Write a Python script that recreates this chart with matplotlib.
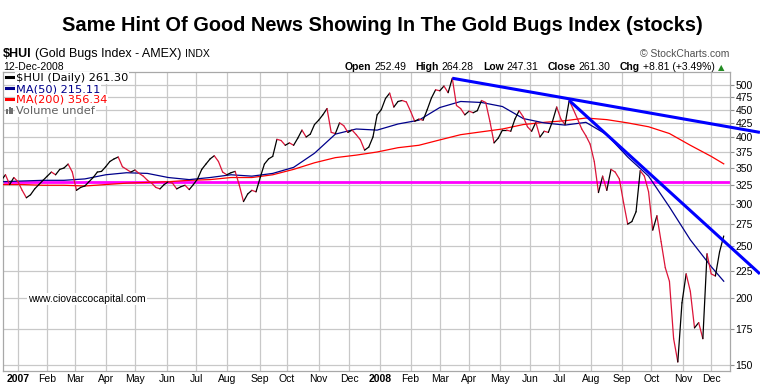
import numpy as np
import pandas as pd
import matplotlib
matplotlib.use('Agg')
import matplotlib.pyplot as plt
from matplotlib.lines import Line2D
from matplotlib.patches import Rectangle

plt.rcParams['font.family'] = ['Liberation Sans', 'DejaVu Sans']

W, H = 760, 387

# ===== data =====

start_date = '2006-12-18'
end_date = '2008-12-12'

# $HUI close, one value every 3 trading days
price_step = 3
hui_close = [
    332, 340, 326, 336, 330, 318, 308, 312, 320, 326,
    332, 338, 344, 340, 348, 350, 356, 344, 318, 322,
    324, 330, 336, 344, 345, 352, 360, 364, 367, 352,
    348, 344, 347, 342, 338, 332, 328, 322, 320, 326,
    330, 328, 320, 323, 325, 319, 326, 334, 348, 356,
    364, 369, 360, 344, 340, 343, 345, 325, 303, 313,
    318, 316, 336, 356, 364, 368, 396, 394, 386, 390,
    386, 398, 412, 400, 405, 422, 430, 440, 452, 408,
    406, 425, 420, 408, 412, 404, 395, 378, 383, 400,
    440, 450, 472, 483, 455, 466, 468, 465, 447, 428,
    432, 430, 450, 473, 490, 488, 498, 484, 515, 458,
    452, 440, 447, 444, 448, 468, 464, 428, 390, 398,
    412, 412, 410, 432, 448, 436, 418, 410, 426, 400,
    410, 408, 428, 455, 432, 422, 468, 450, 432, 414,
    402, 388, 360, 315, 338, 318, 348, 344, 334, 302,
    275, 278, 290, 346, 338, 316, 268, 285, 255, 228,
    215, 168, 152, 196, 222, 206, 176, 180, 168, 242,
    222, 220, 244, 261.30,
]

# moving averages, one value every 15 trading days plus the last day
ma_step = 15
ma50 = [
    330, 331, 332, 332, 334, 340, 343, 342, 336, 333,
    336, 340, 338, 342, 351, 373, 405, 414, 412, 423,
    430, 454, 466, 464, 456, 433, 425, 421, 426, 404,
    367, 338, 296, 257, 229, 215.11,
]
ma200 = [
    326, 326, 325, 325, 324, 326, 328, 329, 330, 332,
    333, 336, 336, 340, 348, 358, 366, 370, 375, 382,
    386, 395, 404, 409, 414, 422, 426, 429, 434, 431,
    425, 418, 406, 386, 368, 356.34,
]

support_level = 329

# trend lines: (date, value) anchors, drawn past the right edge
trend_long = [('2008-03-14', 515), ('2009-01-19', 408)]
trend_steep = [('2008-07-10', 468), ('2009-01-19', 222)]

# NYSE holidays, used for the first trading day of a month
holidays = ['2007-01-01', '2007-01-02', '2007-01-15', '2007-02-19',
            '2007-04-06', '2007-05-28', '2007-07-04', '2007-09-03',
            '2007-11-22', '2007-12-25', '2008-01-01', '2008-01-21',
            '2008-02-18', '2008-03-21', '2008-05-26', '2008-07-04',
            '2008-09-01', '2008-11-27']

y_ticks = [150, 175, 200, 225, 250, 275, 300, 325, 350, 375,
           400, 425, 450, 475, 500]
month_names = ['2007', 'Feb', 'Mar', 'Apr', 'May', 'Jun', 'Jul', 'Aug',
               'Sep', 'Oct', 'Nov', 'Dec',
               '2008', 'Feb', 'Mar', 'Apr', 'May', 'Jun', 'Jul', 'Aug',
               'Sep', 'Oct', 'Nov', 'Dec']


def pos(dates):
    """Trading-day position counted from the first day of the chart."""
    d = np.array(dates, dtype='datetime64[D]')
    return np.busday_count(np.datetime64(start_date), d)


def fx(x):
    return x / W


def fy(y):
    return 1 - y / H


# ===== chart =====

days = pd.bdate_range(start_date, end_date)
price_x = pos(days[::price_step].values.astype('datetime64[D]'))
ma_days = list(days[::ma_step].values.astype('datetime64[D]'))
ma_days.append(days[-1].to_datetime64().astype('datetime64[D]'))
ma_x = pos(ma_days)

fig = plt.figure(figsize=(W / 100, H / 100), dpi=100)
ax = fig.add_axes([fx(3), fy(371), fx(727), (371 - 72) / H])

ax.set_yscale('log')
ax.set_ylim(146.2, 529)
ax.set_xlim(1.22, 523.5)

# month grid
month_starts = np.busday_offset(
    np.arange('2007-01', '2009-01', dtype='datetime64[M]').astype('datetime64[D]'),
    0, roll='forward', holidays=holidays)
mx = pos(month_starts)
ax.set_xticks(mx)
ax.set_xticklabels(month_names)
for lab in ax.get_xticklabels():
    if lab.get_text() in ('2007', '2008'):
        lab.set_fontweight('bold')
ax.tick_params(axis='x', length=0, pad=2.5, labelsize=7.5)

ax.set_yticks(y_ticks)
ax.set_yticklabels([str(v) for v in y_ticks])
ax.yaxis.set_minor_locator(matplotlib.ticker.NullLocator())
ax.yaxis.tick_right()
ax.tick_params(axis='y', length=3, width=0.8, color='#909090', pad=1,
               labelsize=7.5)

ax.grid(True, color='#c8c8c8', lw=0.9)
ax.set_axisbelow(True)
for s in ax.spines.values():
    s.set_color('#a8a8a8')
    s.set_linewidth(0.9)

# support line
ax.axhline(support_level, color='#ff00ff', lw=2.0, zorder=2)

# moving averages
ax.plot(ma_x, ma200, color='#ff0000', lw=0.9, zorder=3)
ax.plot(ma_x, ma50, color='#00008b', lw=0.9, zorder=3)

# price: black on up days, red on down days
for i in range(1, len(hui_close)):
    c = '#000000' if hui_close[i] >= hui_close[i - 1] else '#dc1438'
    ax.plot(price_x[i - 1:i + 1], hui_close[i - 1:i + 1], color=c, lw=0.9,
            zorder=4, solid_capstyle='round')

# trend lines
for line in (trend_long, trend_steep):
    lx = pos([d for d, _ in line])
    lv = [v for _, v in line]
    ax.plot(lx, lv, color='#0000ff', lw=2.2, zorder=5, clip_on=False,
            solid_capstyle='butt')

# legend block
legend_rows = [
    ('$HUI (Daily) 261.30', '#000000'),
    ('MA(50) 215.11', '#00008b'),
    ('MA(200) 356.34', '#ff0000'),
]
for k, (txt, col) in enumerate(legend_rows):
    yb = 81 + 11 * k
    fig.text(fx(16), fy(yb), txt, color=col, fontsize=8.2,
             family='DejaVu Sans', va='baseline',
             bbox=dict(facecolor='white', edgecolor='none', pad=0.6))
    fig.add_artist(Line2D([fx(6), fx(13)], [fy(yb - 4)] * 2, color=col,
                          lw=2.2))
fig.text(fx(16), fy(114), 'Volume undef', color='#606060', fontsize=8.2,
         family='DejaVu Sans', va='baseline',
         bbox=dict(facecolor='white', edgecolor='none', pad=0.6))
for bx, bh in ((6, 5), (8.5, 7), (11, 6)):
    fig.add_artist(Rectangle((fx(bx), fy(114)), fx(2), bh / H,
                             facecolor='#707070', edgecolor='none'))

fig.text(fx(28), fy(302), 'www.ciovaccocapital.com', fontsize=7.5,
         va='baseline',
         bbox=dict(facecolor='white', edgecolor='none', pad=1.0))

# ===== header =====

fig.text(fx(382), fy(31), 'Same Hint Of Good News Showing In The Gold Bugs Index (stocks)',
         fontsize=14.4, fontweight='bold', ha='center', va='baseline')

r = fig.canvas.get_renderer()


def run_text(x, y, parts, size):
    for s, weight, gap in parts:
        t = fig.text(fx(x), fy(y), s, fontsize=size, fontweight=weight,
                     va='baseline')
        x += t.get_window_extent(r).width + gap
    return x


hx = run_text(3, 57, [('$HUI', 'bold', 3), ('(Gold Bugs Index - AMEX)', 'normal', 4)], 9)
fig.text(fx(hx), fy(57), 'INDX', fontsize=7.5, va='baseline')
fig.text(fx(3), fy(70), '12-Dec-2008', fontsize=7.5, va='baseline')
fig.text(fx(729), fy(57), '\u00a9 StockCharts.com', fontsize=7.5,
         color='#505050', ha='right', va='baseline')

end_x = run_text(345, 70, [
    ('Open', 'bold', 3), ('252.49', 'normal', 9),
    ('High', 'bold', 3), ('264.28', 'normal', 9),
    ('Low', 'bold', 3), ('247.31', 'normal', 9),
    ('Close', 'bold', 3), ('261.30', 'normal', 9),
    ('Chg', 'bold', 3), ('+8.81 (+3.49%)', 'normal', 3),
], 7.5)
fig.text(fx(end_x), fy(70), '\u25b2', fontsize=6, color='#228b22',
         va='baseline', family='DejaVu Sans')

fig.savefig('out.png', dpi=100)
